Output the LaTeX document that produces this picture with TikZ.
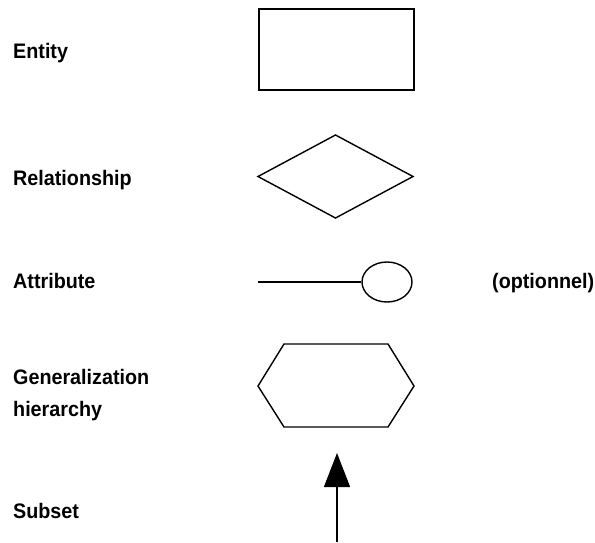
\documentclass[tikz,border=0pt]{standalone}
\usepackage{fontspec}
\newfontfamily\lblfont{Liberation Sans}[FakeStretch=0.94]
\usetikzlibrary{shapes.geometric,arrows.meta}
\begin{document}
\begin{tikzpicture}[x=1pt,y=-1pt,
  lbl/.style={anchor=base west,inner sep=0pt,font=\lblfont\bfseries\fontsize{21}{21}\selectfont},
  shp/.style={draw=black,line width=1.4pt,line join=miter},
  attr/.style={shp,ellipse,minimum width=50pt,minimum height=40pt,inner sep=0pt}]
\useasboundingbox[fill=white] (0,0) rectangle (595,542);
% labels
\node[lbl] (lentity) at (13,58) {Entity};
\node[lbl] (lrel) at (13,185) {Relationship};
\node[lbl] (lattr) at (13,288) {Attribute};
\node[lbl] (lopt) at (492,288) {(optionnel)};
\node[lbl] (lgen1) at (13,384) {Generalization};
\node[lbl] (lgen2) at (13,416) {hierarchy};
\node[lbl] (lsub) at (13,518) {Subset};
% entity
\node[shp,rectangle,minimum width=155pt,minimum height=81pt,inner sep=0pt] (entity) at (336.5,49.5) {};
% relationship
\draw[shp] (258,176.5) -- (335.5,135) -- (413,176.5) -- (335.5,218) -- cycle;
% attribute
\node[attr] (attrib) at (387,282) {};
\coordinate (astart) at (258,282);
\draw[shp] (astart) -- (attrib.west);
% generalization hierarchy
\draw[shp] (258,386) -- (284,344) -- (388,344) -- (414,386) -- (388,427) -- (284,427) -- cycle;
% subset arrow
\coordinate (sbot) at (337,542);
\coordinate (stip) at (337,453);
\draw[line width=1.4pt,-{Triangle[length=34pt,width=26pt]}] (sbot) -- (stip);
\end{tikzpicture}
\end{document}
